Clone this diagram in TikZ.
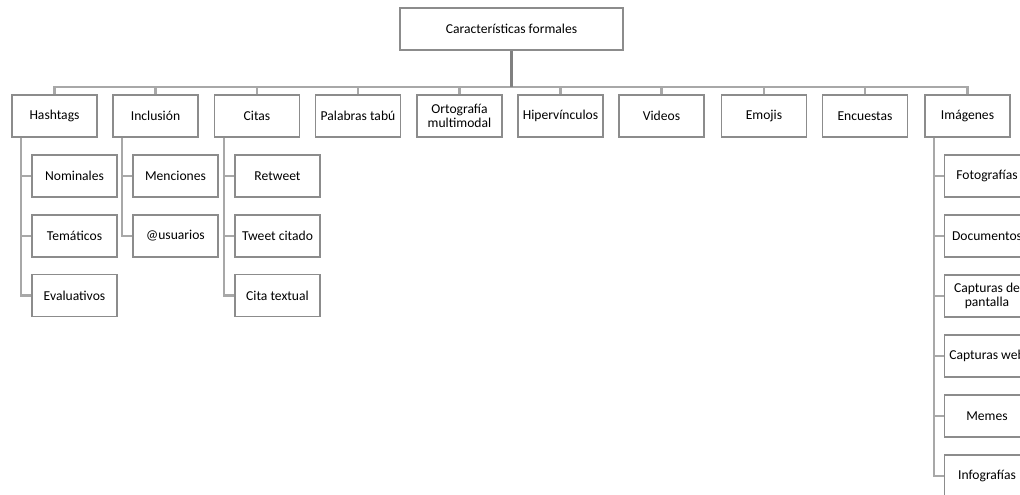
\documentclass[tikz,border=0pt]{standalone}
\usepackage{fontspec}
\setmainfont{Carlito}
\usetikzlibrary{calc}
\definecolor{boxgray}{HTML}{8C8C8C}
\definecolor{linegray}{HTML}{A8A8A8}
\definecolor{stemgray}{HTML}{808080}
\tikzset{
  box/.style={draw=boxgray, line width=1.6pt, fill=white, minimum width=85pt, minimum height=42pt, inner sep=1pt, align=center, font=\fontsize{13.6}{14}\selectfont},
  conn/.style={draw=linegray, line width=2.2pt},
  stem/.style={draw=stemgray, line width=2.6pt},
}
\begin{document}
\begin{tikzpicture}[x=1pt,y=-1pt]
\useasboundingbox (0,0) rectangle (1020,495);
\clip (0,0) rectangle (1020,495);
\coordinate (bus) at (0,87);
% top
\node[box, minimum width=223pt] (top) at (511.5,29) {Características formales};
% level 1
\node[box] (hash) at (54.5,116) {Hashtags};
\node[box] (incl) at (155.5,116) {Inclusión};
\node[box] (cita) at (257,116) {Citas};
\node[box] (tabu) at (358,116) {Palabras tabú};
\node[box] (orto) at (459.5,116) {Ortografía\\multimodal};
\node[box] (hipe) at (560.5,116) {Hipervínculos};
\node[box] (vide) at (661.5,116) {Videos};
\node[box] (emoj) at (764,116) {Emojis};
\node[box] (encu) at (865,116) {Encuestas};
\node[box] (imag) at (967.5,116) {Imágenes};
% level 2
\node[box] (nomi) at (74.5,176) {Nominales};
\node[box] (tema) at (74.5,236) {Temáticos};
\node[box] (eval) at (74.5,295.5) {Evaluativos};
\node[box] (menc) at (175.5,176) {Menciones};
\node[box] (usua) at (175.5,236) {@usuarios};
\node[box] (retw) at (277.5,176) {Retweet};
\node[box] (twee) at (277.5,236) {Tweet citado};
\node[box] (text) at (277.5,295.5) {Cita textual};
\node[box] (foto) at (987,176) {Fotografías};
\node[box] (docu) at (987,236) {Documentos};
\node[box] (capt) at (987,296) {Capturas de\\pantalla};
\node[box] (capw) at (987,356) {Capturas web};
\node[box] (meme) at (987,416) {Memes};
\node[box] (info) at (987,476) {Infografías};
% connectors level 1
\foreach \c in {hash,incl,cita,tabu,orto,hipe,vide,emoj,encu,imag}{
  \draw[conn] (top.south |- bus) -| (\c.north);
}
\draw[stem] (top.south) -- (top.south |- bus);
% connectors level 2
\foreach \p/\c in {hash/nomi,hash/tema,hash/eval,incl/menc,incl/usua,cita/retw,cita/twee,cita/text,imag/foto,imag/docu,imag/capt,imag/capw,imag/meme,imag/info}{
  \draw[conn] ($(\p.south west)+(10,0)$) |- (\c.west);
}
\end{tikzpicture}
\end{document}
